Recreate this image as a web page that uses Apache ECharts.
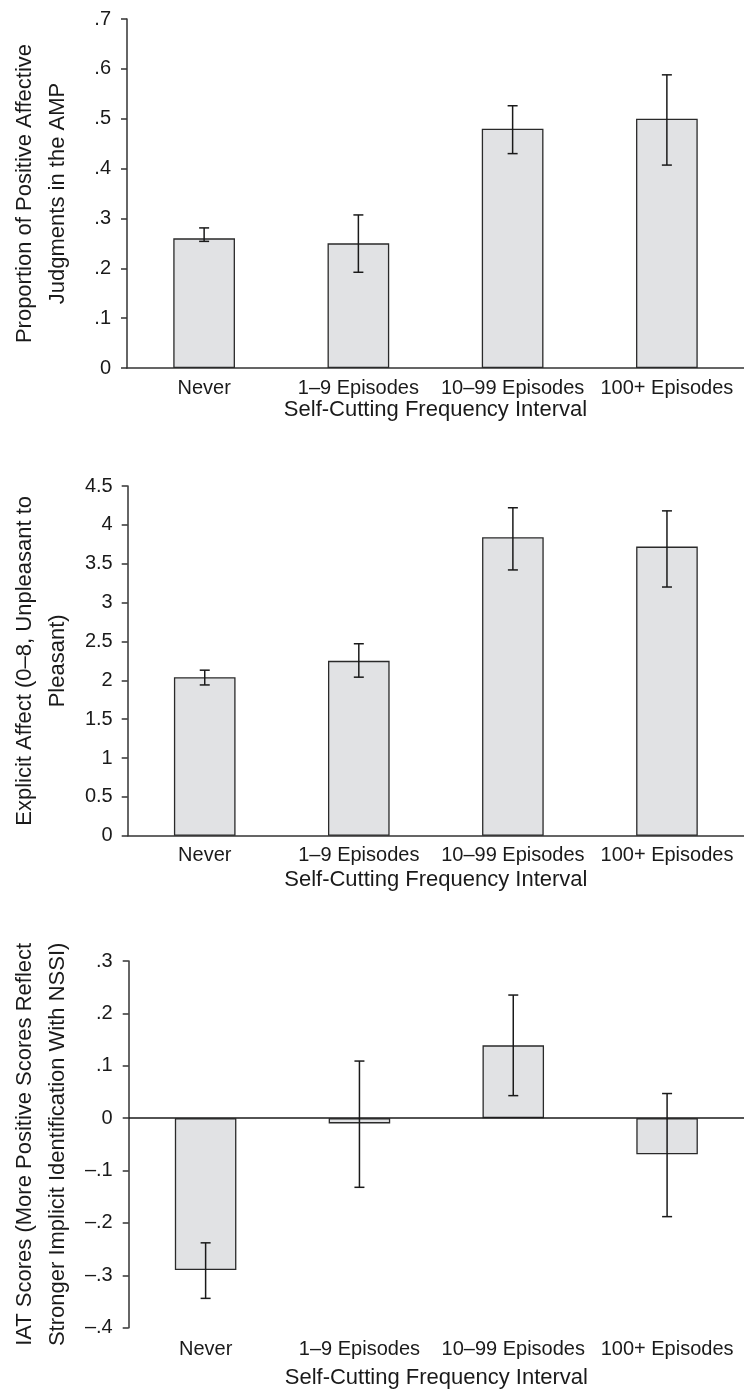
<!DOCTYPE html>
<html>
<head>
<meta charset="utf-8">
<script src="https://cdn.jsdelivr.net/npm/echarts@6/dist/echarts.min.js"></script>
<style>
html,body{margin:0;padding:0;background:#fff;}
#chart{width:744px;height:1400px;}
</style>
</head>
<body>
<div id="chart"></div>
<script>
const categories = ['Never', '1–9 Episodes', '10–99 Episodes', '100+ Episodes'];

const ampMeans = [0.26, 0.25, 0.48, 0.50];
const ampLow = [0.254, 0.192, 0.430, 0.407];
const ampHigh = [0.281, 0.307, 0.526, 0.588];
const ampTicks = ['0', '.1', '.2', '.3', '.4', '.5', '.6', '.7'];

const explicitMeans = [2.04, 2.25, 3.84, 3.72];
const explicitLow = [1.94, 2.04, 3.42, 3.20];
const explicitHigh = [2.13, 2.47, 4.22, 4.18];
const explicitTicks = ['0', '0.5', '1', '1.5', '2', '2.5', '3', '3.5', '4', '4.5'];

const iatMeans = [-0.29, -0.01, 0.139, -0.069];
const iatLow = [-0.344, -0.132, 0.043, -0.188];
const iatHigh = [-0.238, 0.109, 0.235, 0.047];
const iatTicks = ['–.4', '–.3', '–.2', '–.1', '0', '.1', '.2', '.3'];

const xTitle = 'Self-Cutting Frequency Interval';
const yTitles = [
  'Proportion of Positive Affective\nJudgments in the AMP',
  'Explicit Affect (0–8, Unpleasant to\nPleasant)',
  'IAT Scores (More Positive Scores Reflect\nStronger Implicit Identification With NSSI)'
];

const FONT = '"Liberation Sans", Arial, sans-serif';
const TXT = '#1a1a1a';
const AX = '#333';

function errRender(params, api) {
  const x = api.value(0);
  const lo = api.coord([x, api.value(1)]);
  const hi = api.coord([x, api.value(2)]);
  const w = 5;
  const st = { stroke: '#1a1a1a', lineWidth: 1.5 };
  return {
    type: 'group',
    children: [
      { type: 'line', shape: { x1: hi[0], y1: hi[1], x2: lo[0], y2: lo[1] }, style: st },
      { type: 'line', shape: { x1: hi[0] - w, y1: hi[1], x2: hi[0] + w, y2: hi[1] }, style: st },
      { type: 'line', shape: { x1: lo[0] - w, y1: lo[1], x2: lo[0] + w, y2: lo[1] }, style: st }
    ]
  };
}

const grids = [
  { left: 127, width: 626, top: 19, height: 349 },
  { left: 127, width: 626, top: 486, height: 349.7 },
  { left: 127, width: 626, top: 961, height: 366.7 }
];

function xAxisFor(i, showLine, labelMargin, nameGap) {
  return {
    type: 'category', gridIndex: i, data: categories,
    axisLine: { show: showLine, onZero: false, lineStyle: { color: AX, width: 1.5 } },
    axisTick: { show: false },
    axisLabel: { color: TXT, fontFamily: FONT, fontSize: 20, margin: labelMargin, interval: 0 },
    name: xTitle, nameLocation: 'middle', nameGap: nameGap,
    nameTextStyle: { color: TXT, fontFamily: FONT, fontSize: 22 },
    splitLine: { show: false }
  };
}

function yAxisFor(i, min, max, interval, ticks, margin) {
  return {
    type: 'value', gridIndex: i, min: min, max: max, interval: interval,
    axisLine: { show: true, lineStyle: { color: AX, width: 1.5 } },
    axisTick: { show: true, length: 6, lineStyle: { color: AX, width: 1.5 } },
    splitLine: { show: false },
    axisLabel: {
      color: TXT, fontFamily: FONT, fontSize: 20, margin: margin,
      formatter: function (v) { return ticks[Math.round((v - min) / interval)]; }
    },
    name: yTitles[i], nameLocation: 'middle', nameRotate: 90, nameGap: 53,
    nameTextStyle: { color: TXT, fontFamily: FONT, fontSize: 22, lineHeight: 33, align: 'center' }
  };
}

function barSeries(i, values, zeroLine) {
  const s = {
    type: 'bar', xAxisIndex: i, yAxisIndex: i, data: values, barWidth: '40%',
    itemStyle: { color: '#e1e2e4', borderColor: '#2a2a2a', borderWidth: 1.3 },
    silent: true, z: 2
  };
  if (zeroLine) {
    s.markLine = {
      silent: true, symbol: ['none', 'none'], label: { show: false },
      lineStyle: { color: '#1a1a1a', width: 1.5, type: 'solid' },
      data: [{ yAxis: 0 }]
    };
  }
  return s;
}

function errSeries(i, low, high) {
  return {
    type: 'custom', xAxisIndex: i, yAxisIndex: i, renderItem: errRender, z: 3,
    encode: { x: 0, y: [1, 2] }, silent: true,
    data: categories.map((c, k) => [k, low[k], high[k]])
  };
}

const option = {
  animation: false,
  backgroundColor: '#fff',
  textStyle: { fontFamily: FONT },
  grid: grids,
  xAxis: [
    xAxisFor(0, true, 10, 31),
    xAxisFor(1, true, 10, 33),
    xAxisFor(2, false, 12, 39)
  ],
  yAxis: [
    yAxisFor(0, 0, 0.7, 0.1, ampTicks, 16),
    yAxisFor(1, 0, 4.5, 0.5, explicitTicks, 15),
    yAxisFor(2, -0.4, 0.3, 0.1, iatTicks, 16)
  ],
  series: [
    barSeries(0, ampMeans, false),
    errSeries(0, ampLow, ampHigh),
    barSeries(1, explicitMeans, false),
    errSeries(1, explicitLow, explicitHigh),
    barSeries(2, iatMeans, true),
    errSeries(2, iatLow, iatHigh)
  ]
};

const chart = echarts.init(document.getElementById('chart'), null, { renderer: 'canvas' });
chart.setOption(option);
</script>
</body>
</html>
